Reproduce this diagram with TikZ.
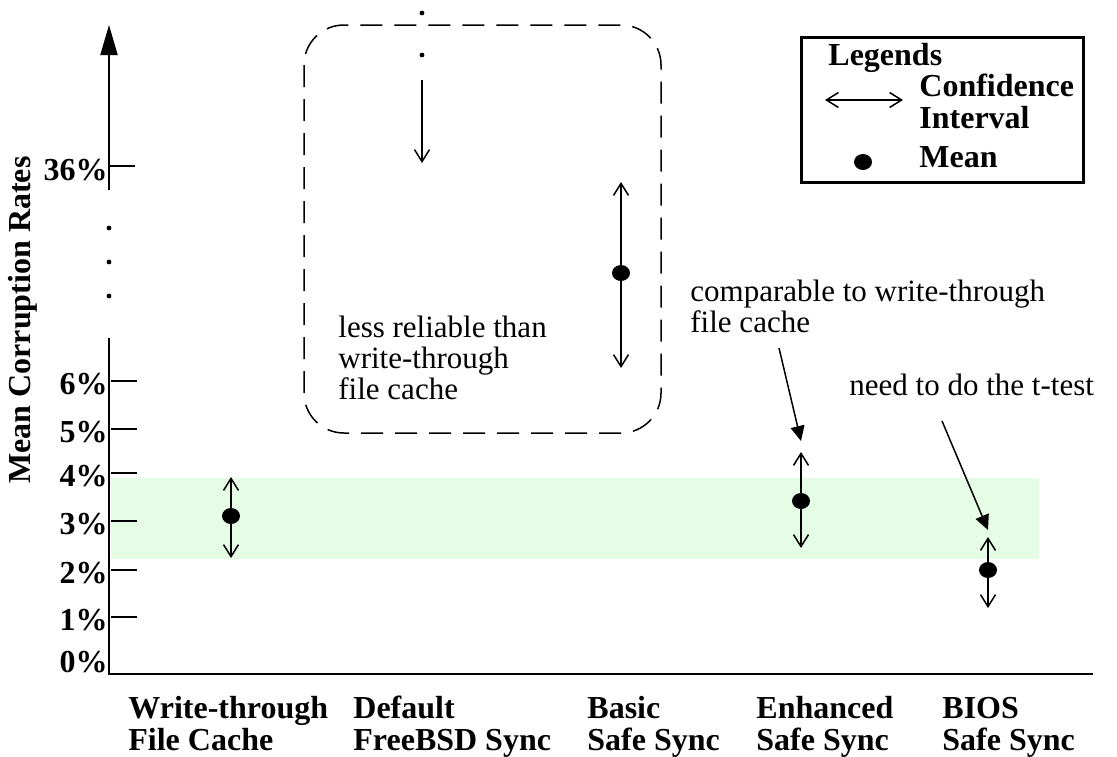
\documentclass[tikz,border=0pt]{standalone}
\usepackage{fontspec}
\setmainfont{Liberation Serif}
\usetikzlibrary{arrows.meta,shapes.geometric}
\definecolor{bandgreen}{RGB}{229,252,229}

\begin{document}
\begin{tikzpicture}[x=0.5pt, y=-0.5pt,
    every node/.style={inner sep=0pt, font=\fontsize{15.5}{15.5}\selectfont},
    boldtxt/.style={font=\fontsize{16}{16}\selectfont\bfseries, align=left},
    note/.style={align=left},
    ci/.style={line width=0.75pt, {Straight Barb[length=6pt,width=7.5pt]}-{Straight Barb[length=6pt,width=7.5pt]}},
    cidown/.style={line width=0.75pt, -{Straight Barb[length=6pt,width=7.5pt]}},
    meanpt/.style={ellipse, fill=black, minimum width=9pt, minimum height=8pt},
    callout/.style={line width=0.75pt, -{Triangle[length=7.5pt,width=7pt]}},
    tickmark/.style={line width=1pt}]
    \useasboundingbox (0,0) rectangle (1117,756);

    % bande de reference
    \fill[bandgreen] (111,478) rectangle (1039,559);

    % axes
    \draw[line width=1pt, -{Triangle[length=15pt,width=8.5pt]}] (109,190) -- (109,25);
    \draw[line width=1pt] (109,338) -- (109,674) -- (1093,674);
    \foreach \y in {228,262,296}
        \fill (109,\y) circle (1.2pt);

    \draw[tickmark] (109,166) -- (135,166);
    \node[boldtxt, anchor=east] (lbl36) at (108,170) {36\%};
    \foreach \y/\l in {381/6,429/5,473/4,521/3,570/2,617/1} {
        \draw[tickmark] (111,\y) -- (137,\y);
        \node[boldtxt, anchor=east] (lbl\l) at (108,\y+3) {\l\%};
    }
    \node[boldtxt, anchor=east] (lbl0) at (108,662) {0\%};

    \node[boldtxt, rotate=90] (ytitle) at (23,320) {Mean Corruption Rates};

    % categories
    \node[boldtxt, anchor=base west] (catwt) at (128,750) {Write-through\\File Cache};
    \node[boldtxt, anchor=base west] (catbsd) at (353,750) {Default\\FreeBSD Sync};
    \node[boldtxt, anchor=base west] (catbasic) at (587,750) {Basic\\Safe Sync};
    \node[boldtxt, anchor=base west] (catenh) at (756,750) {Enhanced\\Safe Sync};
    \node[boldtxt, anchor=base west] (catbios) at (942,750) {BIOS\\Safe Sync};

    % intervalles
    \coordinate (wthi) at (231,477);
    \coordinate (wtlo) at (231,558);
    \draw[ci] (wtlo) -- (wthi);
    \node[meanpt] (wtmean) at (231,516) {};

    \coordinate (bsdtop) at (422,80);
    \coordinate (bsdlo) at (422,163);
    \draw[cidown] (bsdtop) -- (bsdlo);
    \fill (422,13) circle (1.2pt);
    \fill (422,55) circle (1.2pt);

    \coordinate (basichi) at (621,182);
    \coordinate (basiclo) at (621,368);
    \draw[ci] (basiclo) -- (basichi);
    \node[meanpt] (basicmean) at (621,273) {};

    \coordinate (enhhi) at (801,452);
    \coordinate (enhlo) at (801,548);
    \draw[ci] (enhlo) -- (enhhi);
    \node[meanpt] (enhmean) at (801,501) {};

    \coordinate (bioshi) at (988,537);
    \coordinate (bioslo) at (988,608);
    \draw[ci] (bioslo) -- (bioshi);
    \node[meanpt] (biosmean) at (988,570) {};

    % remarques
    \draw[line width=0.75pt, dash pattern=on 11pt off 6pt, rounded corners=20pt] (304,25) rectangle (661,433);
    \node[note, anchor=base west] (lessrel) at (338,399) {less reliable than\\write-through\\file cache};

    \node[note, anchor=base west] (compar) at (690,332) {comparable to write-through\\file cache};
    \coordinate (comparfrom) at (779,348);
    \coordinate (comparto) at (801,441);
    \draw[callout] (comparfrom) -- (comparto);

    \node[note, anchor=base west] (ttest) at (849,395) {need to do the t-test};
    \coordinate (ttestfrom) at (942,421);
    \coordinate (ttestto) at (988,530);
    \draw[callout] (ttestfrom) -- (ttestto);

    % legende
    \draw[line width=1.5pt] (801,37) rectangle (1083,182);
    \node[boldtxt, anchor=base west] (leghead) at (828,65) {Legends};
    \coordinate (legl) at (825,100);
    \coordinate (legr) at (903,100);
    \draw[ci] (legl) -- (legr);
    \node[boldtxt, anchor=base west] (legci) at (919,128) {Confidence\\Interval};
    \node[meanpt] (legdot) at (863,162) {};
    \node[boldtxt, anchor=base west] (legmean) at (919,167) {Mean};
\end{tikzpicture}
\end{document}
